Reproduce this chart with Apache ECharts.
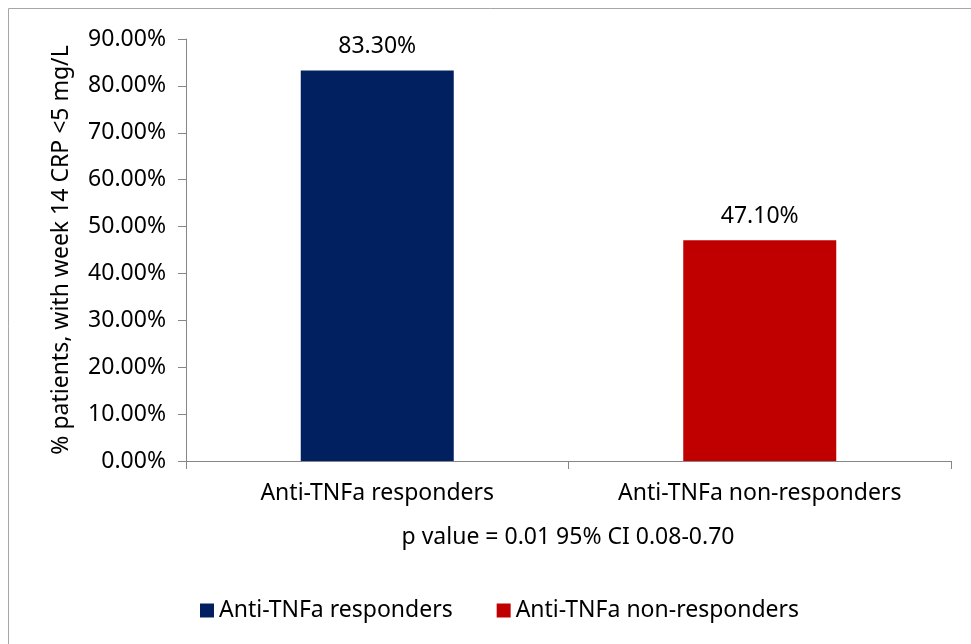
<!DOCTYPE html>
<html>
<head>
<meta charset="utf-8">
<script src="https://cdn.jsdelivr.net/npm/echarts@6/dist/echarts.min.js"></script>
<style>
html, body { margin: 0; padding: 0; background: #fff; }
#chart { width: 971px; height: 644px; }
</style>
</head>
<body>
<div id="chart"></div>
<script>
var categories = ['Anti-TNFa responders', 'Anti-TNFa non-responders'];
var seriesNames = ['Anti-TNFa responders', 'Anti-TNFa non-responders'];
var values = [0.833, 0.471];
var colors = ['#002060', '#C00000'];
var yTicks = [0, 0.1, 0.2, 0.3, 0.4, 0.5, 0.6, 0.7, 0.8, 0.9];

var font = 'Noto Sans';
var fs = 23;
var myChart = echarts.init(document.getElementById('chart'));

// one series per bar so each gets its own legend entry
var series = seriesNames.map(function(name, i) {
	var data = categories.map(function(c, j) { return j === i ? values[i] : '-'; });
	return {
		name : name,
		type : 'bar',
		stack : 'all',
		barWidth : '40%',
		itemStyle : { color : colors[i] },
		label : {
			show : true,
			position : 'top',
			distance : 12,
			color : '#000',
			fontFamily : font,
			fontSize : fs,
			formatter : function(p) { return (p.value * 100).toFixed(2) + '%'; }
		},
		data : data
	};
});

var option = {
	backgroundColor : '#fff',
	animation : false,
	color : colors,
	grid : { left : 186, right : 20, top : 39, bottom : 183 },
	legend : {
		top : 594,
		left : 195,
		itemWidth : 14,
		itemHeight : 14,
		itemGap : 44,
		icon : 'rect',
		textStyle : { fontFamily : font, fontSize : fs, color : '#000' },
		data : seriesNames
	},
	xAxis : {
		type : 'category',
		data : categories,
		axisLine : { lineStyle : { color : '#868686' } },
		axisTick : { show : true, length : 8, lineStyle : { color : '#868686' } },
		axisLabel : { margin : 21, color : '#000', fontFamily : font, fontSize : fs }
	},
	yAxis : {
		type : 'value',
		min : yTicks[0],
		max : yTicks[yTicks.length - 1],
		interval : 0.1,
		name : '% patients, with week 14 CRP <5 mg/L',
		nameLocation : 'middle',
		nameGap : 113,
		nameTextStyle : { color : '#000', fontFamily : font, fontSize : fs },
		axisLine : { show : true, lineStyle : { color : '#868686' } },
		axisTick : { show : true, length : 8, lineStyle : { color : '#868686' } },
		splitLine : { show : false },
		axisLabel : {
			margin : 20,
			color : '#000',
			fontFamily : font,
			fontSize : fs,
			formatter : function(v) { return (v * 100).toFixed(2) + '%'; }
		}
	},
	graphic : [ {
		type : 'rect',
		silent : true,
		shape : { x : 8.5, y : 8.5, width : 980, height : 660 },
		style : { fill : 'none', stroke : '#A6A6A6', lineWidth : 1 }
	}, {
		type : 'text',
		silent : true,
		style : {
			text : 'p value = 0.01 95% CI 0.08-0.70',
			fill : '#000',
			font : fs + 'px "Noto Sans"',
			x : 568,
			y : 537,
			align : 'center',
			verticalAlign : 'middle'
		}
	} ],
	series : series
};
myChart.setOption(option);
</script>
</body>
</html>
